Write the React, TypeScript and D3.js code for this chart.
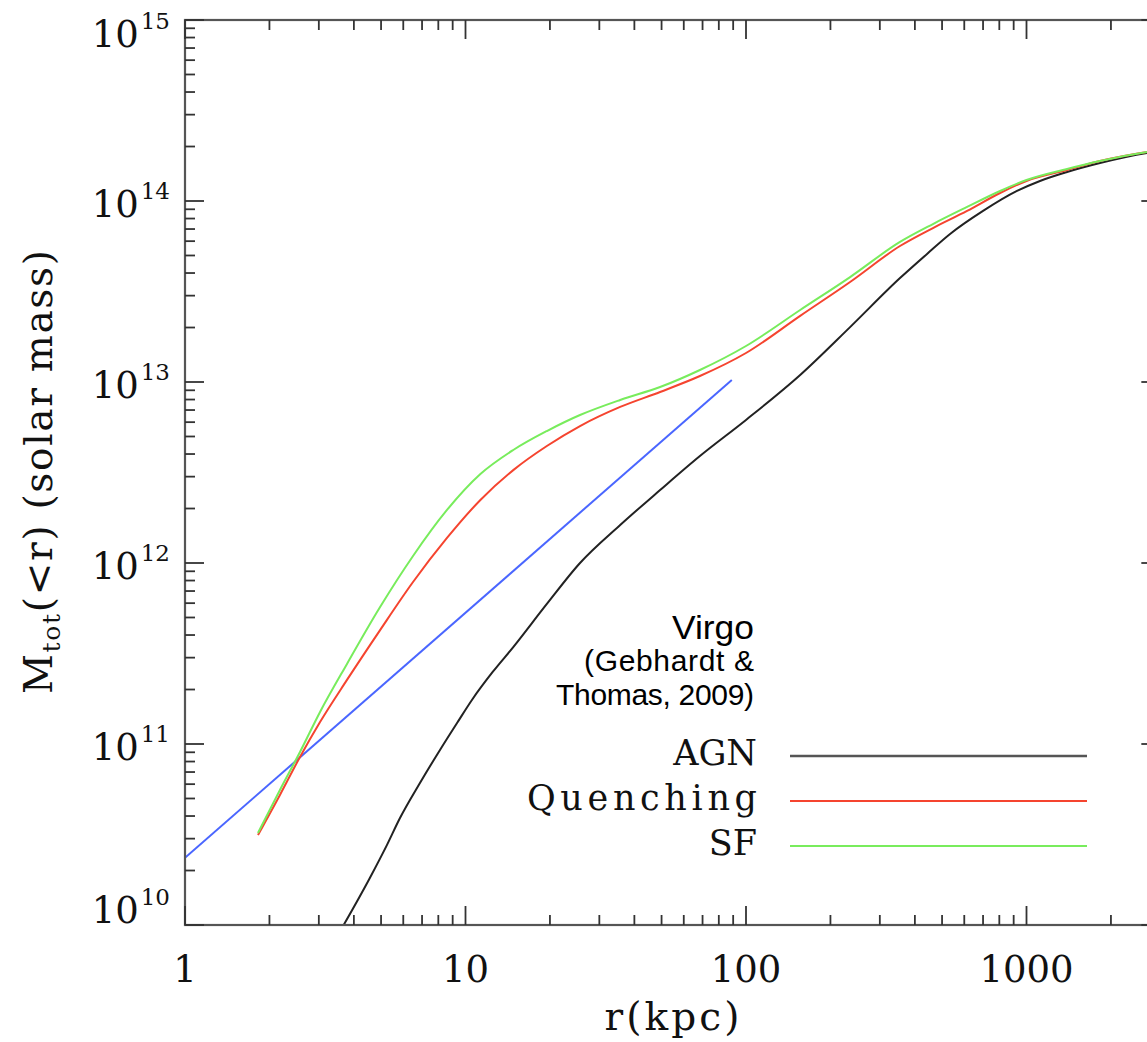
import React from 'react';
import * as d3 from 'd3';

// ---- data ----
const radiusKpc = [1.82, 2.18, 2.57, 3.03, 3.78, 4.96, 6.5, 8.59, 11.3, 14.8, 19.5, 25.6, 35.6, 49.4, 68.5, 100, 156, 235, 354, 464, 614, 805, 1000, 1395, 1828, 2690, 3000];
const massSF = [3.22e10, 5.57e10, 9.03e10, 1.503e11, 2.77e11, 5.71e11, 1.093e12, 1.963e12, 3.1e12, 4.21e12, 5.36e12, 6.57e12, 7.96e12, 9.38e12, 1.165e13, 1.581e13, 2.5e13, 3.8e13, 5.94e13, 7.46e13, 9.27e13, 1.136e14, 1.306e14, 1.503e14, 1.663e14, 1.865e14, 1.913e14];
const massQuenching = [3.14e10, 5.23e10, 8.48e10, 1.323e11, 2.26e11, 4.26e11, 7.85e11, 1.375e12, 2.23e12, 3.26e12, 4.43e12, 5.71e12, 7.28e12, 8.81e12, 1.079e13, 1.446e13, 2.32e13, 3.57e13, 5.64e13, 7.09e13, 8.81e13, 1.107e14, 1.29e14, 1.484e14, 1.663e14, 1.865e14, 1.913e14];
const radiusAGN = [3.51, 4.56, 5.25, 5.84, 6.88, 8.11, 9.33, 10.6, 12.5, 14.8, 19.5, 25.6, 35.6, 49.4, 68.5, 100, 156, 235, 354, 442, 534, 700, 925, 1117, 1395, 1828, 2690, 3000];
const massAGN = [8.81e9, 1.818e10, 2.77e10, 3.9e10, 6.09e10, 9.27e10, 1.306e11, 1.773e11, 2.5e11, 3.43e11, 5.94e11, 1.0e12, 1.621e12, 2.53e12, 3.9e12, 6.17e12, 1.093e13, 2.01e13, 3.75e13, 5.1e13, 6.57e13, 8.81e13, 1.136e14, 1.29e14, 1.446e14, 1.621e14, 1.842e14, 1.89e14];
const radiusVirgo = [1, 89];
const massVirgo = [2.35e10, 1.026e13];

const xTickLabels = [1, 10, 100, 1000];
const yTickExponents = [10, 11, 12, 13, 14, 15];
const legendModel = ['AGN', 'Quenching', 'SF'];
const legendColors = ['#555555', '#f5442f', '#78ec5c'];

const SERIF = '"DejaVu Serif", serif';
const SANS = '"Liberation Sans", Arial, sans-serif';

export default function App() {
  const W = 1147, H = 1042;
  const left = 185, top = 20, bottom = 925;
  const x = d3.scaleLog().domain([1, 3000]).range([left, 185 + 280.5 * Math.log10(3000)]);
  const y = d3.scaleLog().domain([1e10, 1e15]).range([bottom, top]);
  const right = x(3000);

  const mkLine = (rs: number[], ms: number[]) =>
    d3.line<number>()
      .x((_, i) => x(rs[i]))
      .y((_, i) => y(ms[i]))
      .curve(d3.curveMonotoneX)(ms) || '';

  const isMajor = (v: number) => Math.abs(Math.log10(v) - Math.round(Math.log10(v))) < 1e-6;
  const xt = x.ticks();
  const yt = y.ticks();
  const tickColor = '#333';

  const legendY = [756, 801, 846];

  return (
    <svg width={W} height={H} style={{ position: 'absolute', left: 0, top: 0, background: '#fff' }}>
      <defs>
        <clipPath id="plotClip">
          <rect x={left} y={top} width={right - left} height={bottom - top} />
        </clipPath>
        <filter id="shadow" x="-10%" y="-200%" width="120%" height="500%">
          <feDropShadow dx="2" dy="4" stdDeviation="2" floodColor="#000" floodOpacity="0.35" />
        </filter>
      </defs>
      <rect x={0} y={0} width={W} height={H} fill="#fff" />

      {/* curves */}
      <g clipPath="url(#plotClip)" fill="none">
        <path d={mkLine(radiusVirgo, massVirgo)} stroke="#4a66ff" strokeWidth={2} />
        <path d={mkLine(radiusAGN, massAGN)} stroke="#222" strokeWidth={2} />
        <path d={mkLine(radiusKpc, massQuenching)} stroke="#f5442f" strokeWidth={2} />
        <path d={mkLine(radiusKpc, massSF)} stroke="#78ec5c" strokeWidth={2} />
      </g>

      {/* frame */}
      <rect x={left} y={top} width={right - left} height={bottom - top} fill="none" stroke="#555" strokeWidth={2.2} />

      {/* x ticks */}
      {xt.map((v, i) => {
        const len = isMajor(v) ? 19 : 10;
        const px = x(v);
        return (
          <g key={'xt' + i} stroke={tickColor} strokeWidth={1.8}>
            <line x1={px} x2={px} y1={bottom} y2={bottom - len} />
            <line x1={px} x2={px} y1={top} y2={top + len} />
          </g>
        );
      })}
      {/* y ticks */}
      {yt.map((v, i) => {
        const len = isMajor(v) ? 19 : 10;
        const py = y(v);
        return (
          <g key={'yt' + i} stroke={tickColor} strokeWidth={1.8}>
            <line x1={left} x2={left + len} y1={py} y2={py} />
            <line x1={right} x2={right - len} y1={py} y2={py} />
          </g>
        );
      })}

      {/* x tick labels */}
      {xTickLabels.map((v) => (
        <text key={'xl' + v} x={x(v)} y={982} textAnchor="middle" fontFamily={SERIF} fontSize={37} fill="#111">
          {String(v)}
        </text>
      ))}
      {/* y tick labels */}
      {yTickExponents.map((e) => {
        const py = y(Math.pow(10, e));
        const base = Math.min(Math.max(py + 16, 47), 923);
        return (
          <text key={'yl' + e} x={170} y={base} textAnchor="end" fontFamily={SERIF} fontSize={37} fill="#111">
            10<tspan fontSize={23} dy={-18} dx={2}>{String(e)}</tspan>
          </text>
        );
      })}

      {/* axis titles */}
      <text x={672} y={1030} textAnchor="middle" fontFamily={SERIF} fontSize={39} fill="#111" textLength={135} lengthAdjust="spacing">
        r(kpc)
      </text>
      <text transform={`translate(52,472) rotate(-90)`} textAnchor="middle" fontFamily={SERIF} fontSize={39} fill="#111" textLength={444} lengthAdjust="spacing">
        M<tspan fontSize={25} dy={8}>tot</tspan><tspan dy={-8}>(&lt;r) (solar mass)</tspan>
      </text>

      {/* legend: Virgo */}
      <text x={754} y={639} textAnchor="end" fontFamily={SANS} fontSize={34} fill="#000" textLength={82} lengthAdjust="spacingAndGlyphs">Virgo</text>
      <text x={754} y={671} textAnchor="end" fontFamily={SANS} fontSize={30} fill="#000" textLength={170} lengthAdjust="spacing">(Gebhardt &amp;</text>
      <text x={754} y={705} textAnchor="end" fontFamily={SANS} fontSize={30} fill="#000" textLength={198} lengthAdjust="spacing">Thomas, 2009)</text>
      <line x1={788} x2={1097} y1={669} y2={669} stroke="#0a36ff" strokeWidth={5} filter="url(#shadow)" />

      {/* legend: models */}
      {legendModel.map((name, i) => (
        <g key={name}>
          {name === 'Quenching' ? (
            <text x={757} y={legendY[i] + 9} textAnchor="end" fontFamily={SERIF} fontSize={35} fill="#111" textLength={230} lengthAdjust="spacing">
              {name}
            </text>
          ) : (
            <text x={757} y={legendY[i] + 9} textAnchor="end" fontFamily={SERIF} fontSize={35} fill="#111">
              {name}
            </text>
          )}
          <line x1={790} x2={1087} y1={legendY[i]} y2={legendY[i]} stroke={legendColors[i]} strokeWidth={i === 0 ? 2.6 : 2.2} />
        </g>
      ))}
    </svg>
  );
}
